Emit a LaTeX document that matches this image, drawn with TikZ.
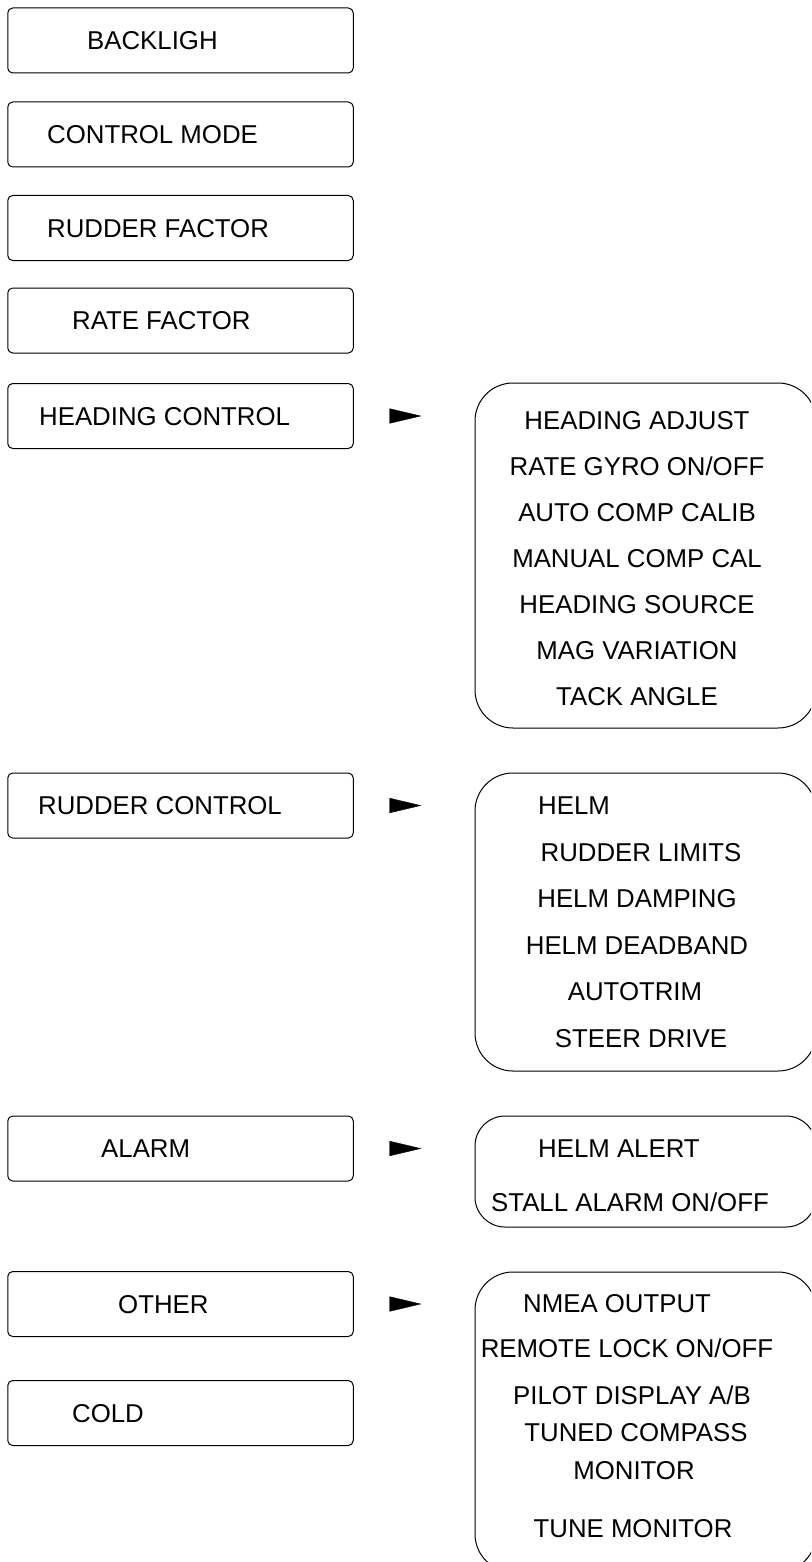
\documentclass[tikz,border=0pt]{standalone}
\usepackage{fontspec}
\setmainfont{Liberation Sans}
\usetikzlibrary{arrows.meta}
\begin{document}
\begin{tikzpicture}[x=1pt,y=-1pt,
  menu/.style={draw=black, line width=1pt, rounded corners=5pt,
    minimum width=345.5pt, minimum height=65pt, inner sep=0pt},
  sub/.style={draw=black, line width=1pt, rounded corners=38pt,
    minimum width=341pt, inner sep=0pt},
  lbl/.style={font=\fontsize{25.8}{30}\selectfont, text=black, inner sep=0pt,
    text height=18.5pt, text depth=0pt},
  link/.style={-{Triangle[length=32pt,width=15pt]}, line width=0.4pt,
    shorten <=37pt, shorten >=53pt}]
\useasboundingbox (0,0) rectangle (811,1562);
\clip (0,0) rectangle (811,1562);
\fill[white] (0,0) rectangle (811,1562);

% main menu entries
\node[menu] (bl) at (180.5,40.5) {};
\node[lbl,anchor=west] (blt) at (87,40.5) {BACKLIGH};
\node[menu] (cm) at (180.5,134.5) {};
\node[lbl,anchor=west] (cmt) at (47,134.5) {CONTROL MODE};
\node[menu] (rf) at (180.5,228) {};
\node[lbl,anchor=west] (rft) at (47,228) {RUDDER FACTOR};
\node[menu] (rt) at (180.5,320.5) {};
\node[lbl,anchor=west] (rtt) at (72,320.5) {RATE FACTOR};
\node[menu] (hc) at (180.5,416) {};
\node[lbl,anchor=west] (hct) at (39,416) {HEADING CONTROL};
\node[menu] (rc) at (180.5,805.5) {};
\node[lbl,anchor=west] (rct) at (38,805.5) {RUDDER CONTROL};
\node[menu] (al) at (180.5,1148.5) {};
\node[lbl,anchor=west] (alt) at (101,1148.5) {ALARM};
\node[menu] (ot) at (180.5,1304) {};
\node[lbl,anchor=west] (ott) at (118,1304) {OTHER};
\node[menu] (cd) at (180.5,1413) {};
\node[lbl,anchor=west] (cdt) at (72,1413) {COLD};

% sub-menus
\node[sub, minimum height=345pt] (hs) at (645.5,555.5) {};
\node[lbl] (hs1) at (637,420) {HEADING ADJUST};
\node[lbl] (hs2) at (637,466) {RATE GYRO ON/OFF};
\node[lbl] (hs3) at (637,512) {AUTO COMP CALIB};
\node[lbl] (hs4) at (637,558) {MANUAL COMP CAL};
\node[lbl] (hs5) at (637,604) {HEADING SOURCE};
\node[lbl] (hs6) at (637,650) {MAG VARIATION};
\node[lbl] (hs7) at (637,696) {TACK ANGLE};

\node[sub, minimum height=298pt] (rs) at (645.5,922) {};
\node[lbl,anchor=west] (rs1) at (538,805) {HELM};
\node[lbl] (rs2) at (641,852) {RUDDER LIMITS};
\node[lbl] (rs3) at (637,898) {HELM DAMPING};
\node[lbl] (rs4) at (637,945) {HELM DEADBAND};
\node[lbl] (rs5) at (635,991) {AUTOTRIM};
\node[lbl] (rs6) at (641,1038) {STEER DRIVE};

\node[sub, minimum height=111pt, rounded corners=30pt] (as) at (645.5,1171.5) {};
\node[lbl,anchor=west] (as1) at (538,1148) {HELM ALERT};
\node[lbl,anchor=west] (as2) at (491,1202) {STALL ALARM ON/OFF};

\node[sub, minimum height=300pt] (os) at (645.5,1422) {};
\node[lbl,anchor=west] (os1) at (523,1303) {NMEA OUTPUT};
\node[lbl] (os2) at (627,1348) {REMOTE LOCK ON/OFF};
\node[lbl] (os3) at (632,1395) {PILOT DISPLAY A/B};
\node[lbl] (os4) at (636,1432) {TUNED COMPASS};
\node[lbl] (os5) at (634,1470) {MONITOR};
\node[lbl] (os6) at (633,1528) {TUNE MONITOR};

% pointers from menu entries to their sub-menus
\draw[link] (hc.east) -- (hc.east -| hs.west);
\draw[link] (rc.east) -- (rc.east -| rs.west);
\draw[link] (al.east) -- (al.east -| as.west);
\draw[link] (ot.east) -- (ot.east -| os.west);
\end{tikzpicture}
\end{document}
